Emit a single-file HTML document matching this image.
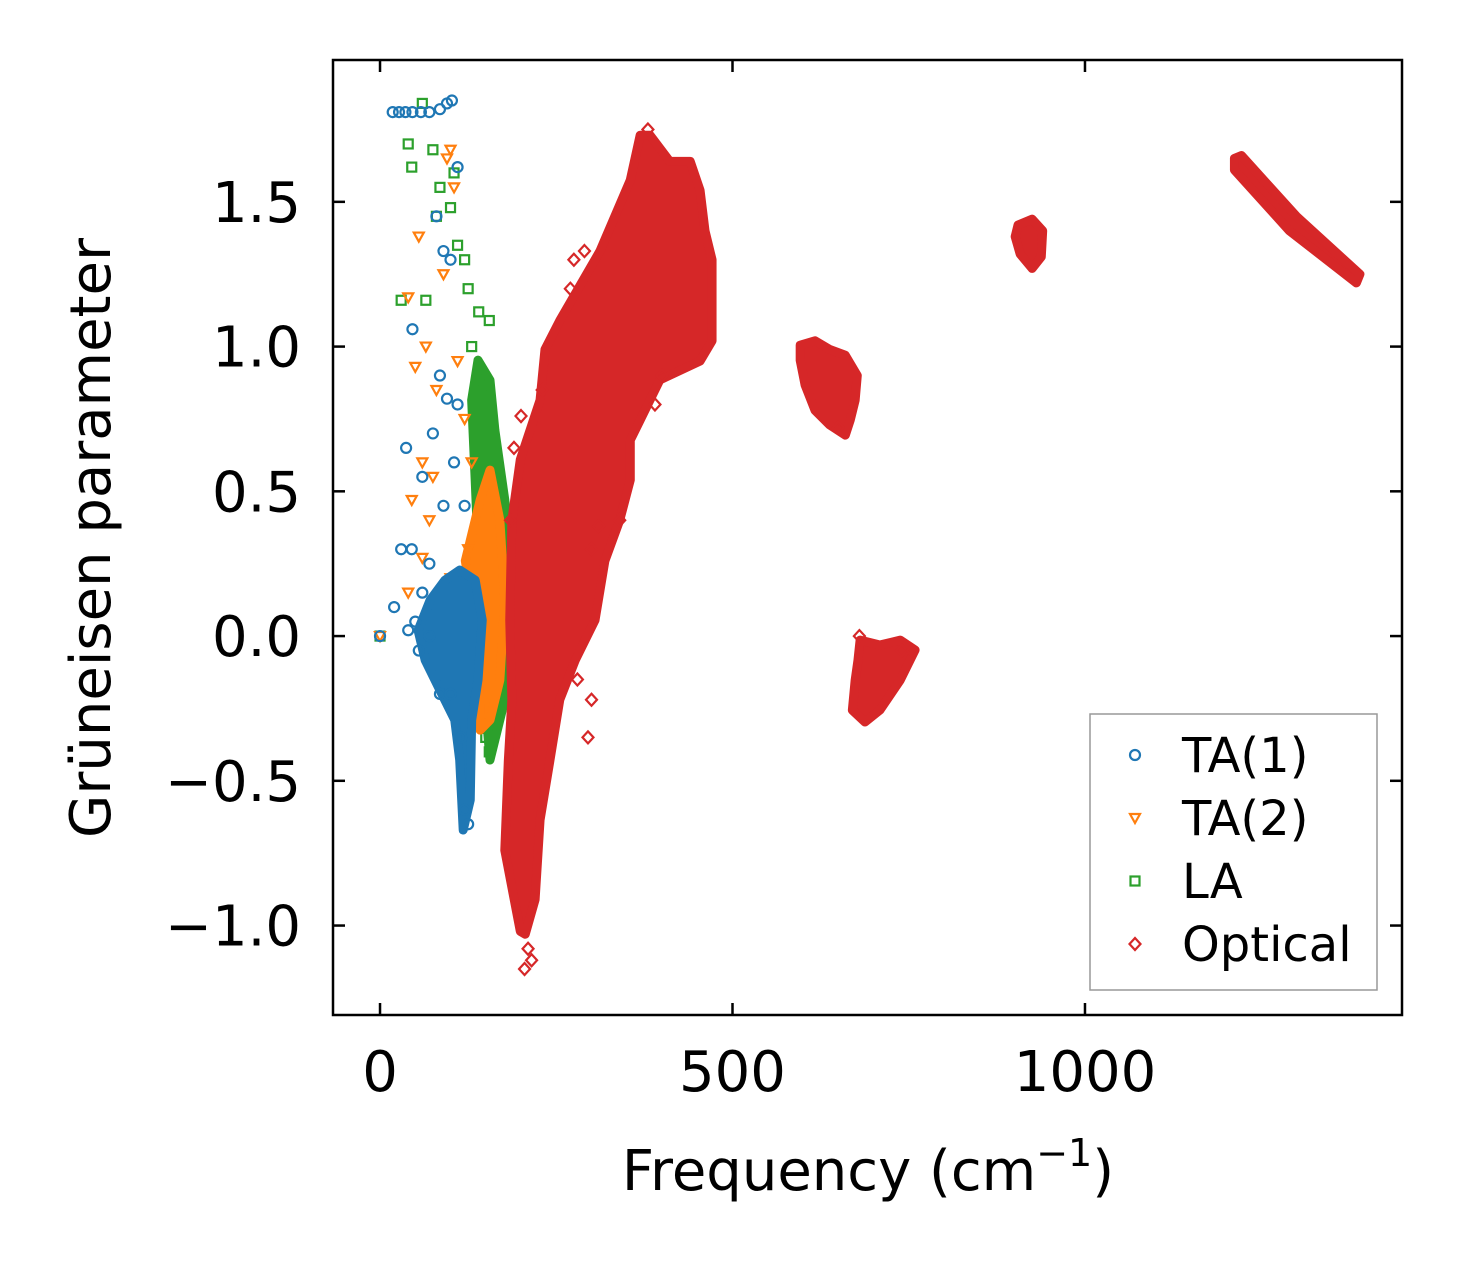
<!DOCTYPE html>
<html><head><meta charset="utf-8"><style>
html,body{margin:0;padding:0;background:#fff;}
svg{display:block;font-family:"DejaVu Sans","Liberation Sans",sans-serif;}
</style></head><body>
<svg id="chart" width="1462" height="1264" viewBox="0 0 1462 1264" xmlns="http://www.w3.org/2000/svg">
<rect x="0" y="0" width="1462" height="1264" fill="#fff"/>
<g id="marks"></g>
<g id="axes"></g>
</svg>
<script>
const xTicks=[0,500,1000];
const xTickLabels=["0","500","1000"];
const yTicks=[-1.0,-0.5,0.0,0.5,1.0,1.5];
const yTickLabels=["\u22121.0","\u22120.5","0.0","0.5","1.0","1.5"];
const seriesNames=["TA(1)","TA(2)","LA","Optical"];
const seriesColors=["#1f77b4","#ff7f0e","#2ca02c","#d62728"];

const ta1Points=[[0,0],[18,1.81],[27,1.81],[36,1.81],[46,1.81],[58,1.81],[70,1.81],[85,1.82],[95,1.84],[102,1.85],[46,1.06],[37,0.65],[30,0.30],[45,0.30],[20,0.10],[50,0.05],[60,0.55],[75,0.70],[85,0.90],[90,1.33],[80,1.45],[110,1.62],[100,1.30],[95,0.82],[110,0.80],[70,0.25],[60,0.15],[90,0.45],[105,0.60],[120,0.45],[85,-0.2],[100,-0.2],[70,0.0],[115,-0.35],[125,-0.65],[120,-0.6],[55,-0.05],[40,0.02]];
const ta2Points=[[0,0],[50,0.93],[45,0.47],[40,1.17],[55,1.38],[65,1.0],[75,0.55],[60,0.27],[80,0.85],[95,1.65],[105,1.55],[70,0.4],[40,0.15],[90,1.25],[110,0.95],[120,0.75],[130,0.6],[85,0.1],[100,0.2],[125,0.3],[135,-0.1],[130,-0.2],[100,1.68],[60,0.6]];
const laPoints=[[0,0],[60,1.84],[40,1.70],[45,1.62],[75,1.68],[85,1.55],[80,1.45],[30,1.16],[65,1.16],[100,1.48],[110,1.35],[120,1.30],[125,1.20],[140,1.12],[155,1.09],[130,1.0],[140,0.9],[150,0.7],[160,0.5],[150,0.3],[145,-0.1],[150,-0.2],[150,-0.35],[155,-0.40],[105,1.6]];
const opticalPoints=[[200,0.76],[190,0.65],[205,-1.15],[210,-1.08],[215,-1.12],[275,1.30],[290,1.33],[270,1.2],[300,0.3],[310,0.38],[300,-0.22],[295,-0.35],[280,-0.15],[340,0.4],[390,0.8],[400,0.9],[380,1.75],[650,0.72],[680,0.0],[740,-0.05],[755,-0.05],[185,0.4],[230,0.85]];

const laRegions=[[[139,0.953],[156,0.884],[163,0.71],[177,0.47],[191,0.124],[191,-0.083],[177,-0.22],[156,-0.428],[149,-0.22],[142,0.124],[135,0.539],[130,0.815]]];
const ta2Regions=[[[121,0.26],[142,0.47],[156,0.573],[170,0.40],[177,0.124],[170,-0.152],[156,-0.29],[142,-0.325],[139,-0.014]]];
const ta1Regions=[[[71,0.124],[92,0.193],[113,0.228],[135,0.193],[145,0.055],[139,-0.152],[130,-0.29],[128,-0.566],[118,-0.67],[113,-0.428],[106,-0.29],[85,-0.187],[64,-0.083],[54,0.02]]];
const opticalRegions=[
 [[199,-1.02],[177,-0.74],[182,-0.43],[187,-0.22],[184,0.055],[187,0.40],[199,0.61],[227,0.815],[234,0.99],[255,1.09],[312,1.33],[355,1.575],[369,1.73],[383,1.73],[411,1.64],[440,1.64],[454,1.54],[461,1.40],[471,1.30],[471,1.02],[454,0.95],[397,0.885],[369,0.746],[355,0.677],[355,0.539],[340,0.40],[319,0.26],[305,0.055],[277,-0.083],[255,-0.22],[241,-0.43],[227,-0.636],[220,-0.91],[206,-1.03]],
 [[596,1.005],[617,1.02],[638,0.99],[660,0.97],[677,0.90],[674,0.815],[667,0.746],[660,0.694],[638,0.729],[617,0.78],[603,0.867],[596,0.953]],
 [[681,-0.014],[709,-0.031],[738,-0.014],[759,-0.048],[738,-0.152],[709,-0.256],[688,-0.297],[670,-0.256],[674,-0.152],[678,-0.083]],
 [[905,1.42],[925,1.44],[940,1.40],[938,1.31],[925,1.27],[908,1.32],[901,1.38]],
 [[1212,1.65],[1222,1.66],[1300,1.45],[1390,1.25],[1385,1.22],[1290,1.40],[1212,1.61]]
];

const L=333,R=1402,T=60,B=1015;
const xMin=-66.7,xMax=1449.7,yMin=-1.309,yMax=1.99;
const sx=v=>L+(v-xMin)/(xMax-xMin)*(R-L);
const sy=v=>B-(v-yMin)/(yMax-yMin)*(B-T);
const NS="http://www.w3.org/2000/svg";
const marks=document.getElementById('marks');
const axes=document.getElementById('axes');
function mk(tag,attrs,parent){const e=document.createElementNS(NS,tag);for(const k in attrs)e.setAttribute(k,attrs[k]);parent.appendChild(e);return e;}

function marker(kind,cx,cy,color,parent){
  const s=5;let e;
  if(kind===0){e=mk('circle',{cx:cx,cy:cy,r:s,fill:'none',stroke:color,'stroke-width':2.2},parent);}
  else if(kind===1){e=mk('polygon',{points:`${cx-s},${cy-s*0.8} ${cx+s},${cy-s*0.8} ${cx},${cy+s}`,fill:'none',stroke:color,'stroke-width':2.2},parent);}
  else if(kind===2){e=mk('rect',{x:cx-s+0.5,y:cy-s+0.5,width:2*s-1,height:2*s-1,fill:'none',stroke:color,'stroke-width':2.2},parent);}
  else {e=mk('polygon',{points:`${cx},${cy-s-1} ${cx+s+0.5},${cy} ${cx},${cy+s+1} ${cx-s-0.5},${cy}`,fill:'none',stroke:color,'stroke-width':2.2},parent);}
  return e;
}
function drawRegions(regs,color,name){
  regs.forEach(r=>{
    const p=mk('polygon',{points:r.map(d=>sx(d[0])+','+sy(d[1])).join(' '),fill:color,stroke:color,'stroke-width':9,'stroke-linejoin':'round'},marks);
    
    
  });
}
function drawPoints(pts,kind,color,name){
  pts.forEach(d=>{
    const e=marker(kind,sx(d[0]),sy(d[1]),color,marks);
    
    
  });
}
drawRegions(laRegions,seriesColors[2],'la-cluster');
drawPoints(laPoints,2,seriesColors[2],'la-point');
drawRegions(ta2Regions,seriesColors[1],'ta2-cluster');
drawPoints(ta2Points,1,seriesColors[1],'ta2-point');
drawRegions(ta1Regions,seriesColors[0],'ta1-cluster');
drawPoints(ta1Points,0,seriesColors[0],'ta1-point');
drawRegions(opticalRegions,seriesColors[3],'optical-cluster');
drawPoints(opticalPoints,3,seriesColors[3],'optical-point');

const fr=mk('rect',{x:L,y:T,width:R-L,height:B-T,fill:'none',stroke:'#000','stroke-width':2.5},axes);


xTicks.forEach((v,i)=>{
  const x=sx(v);
  mk('line',{x1:x,y1:B,x2:x,y2:B-12,stroke:'#000','stroke-width':2.5},axes);
  mk('line',{x1:x,y1:T,x2:x,y2:T+12,stroke:'#000','stroke-width':2.5},axes);
  const t=mk('text',{x:x,y:B+76,'text-anchor':'middle','font-size':56,fill:'#000'},axes);
  t.textContent=xTickLabels[i];
  
  
});
yTicks.forEach((v,i)=>{
  const y=sy(v);
  mk('line',{x1:L,y1:y,x2:L+12,y2:y,stroke:'#000','stroke-width':2.5},axes);
  mk('line',{x1:R,y1:y,x2:R-12,y2:y,stroke:'#000','stroke-width':2.5},axes);
  const t=mk('text',{x:L-32,y:y+20,'text-anchor':'end','font-size':56,fill:'#000'},axes);
  t.textContent=yTickLabels[i];
  
  
});
const xl=mk('text',{x:868,y:1190,'text-anchor':'middle','font-size':56,fill:'#000'},axes);
xl.innerHTML='Frequency (cm<tspan dy="-24" font-size="38">\u22121</tspan><tspan dy="24">)</tspan>';


const yl=mk('text',{x:0,y:0,'text-anchor':'middle','font-size':56,fill:'#000',transform:'translate(110,538) rotate(-90)'},axes);
yl.textContent='Gr\u00fcneisen parameter';



const lg=mk('g',{},axes);


mk('rect',{x:1090,y:714,width:287,height:276,fill:'#fff',stroke:'#999','stroke-width':1.5},lg);
seriesNames.forEach((n,i)=>{
  const y=755+i*63;
  const m=marker(i,1135,y,seriesColors[i],lg);
  
  
  const t=mk('text',{x:1182,y:y+17,'font-size':48,fill:'#000'},lg);
  t.textContent=n;
  
  
});
</script>
</body></html>
